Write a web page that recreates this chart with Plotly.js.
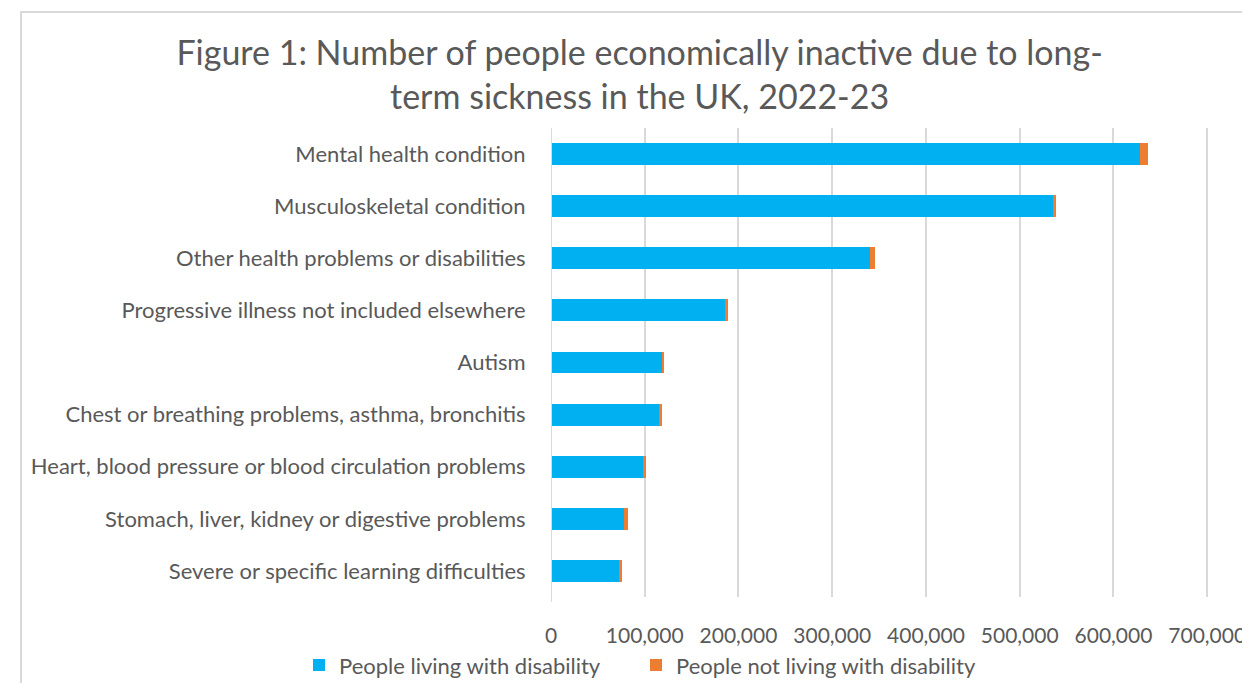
<!DOCTYPE html>
<html>
<head>
<meta charset="utf-8">
<script src="https://cdn.plot.ly/plotly-3.0.1.min.js"></script>
<style>
  html, body { margin: 0; padding: 0; background: #fff; }
  #frame { position: absolute; left: 20px; top: 11px; width: 1230px; height: 680px;
           border-left: 2px solid #d9d9d9; border-top: 2px solid #d9d9d9; }
  #chart { position: absolute; left: 0; top: 0; width: 1242px; height: 683px; }
</style>
</head>
<body>
<div id="frame"></div>
<div id="chart"></div>
<script>
const categories = [
  "Mental health condition",
  "Musculoskeletal condition",
  "Other health problems or disabilities",
  "Progressive illness not included elsewhere",
  "Autism",
  "Chest or breathing problems, asthma, bronchitis",
  "Heart, blood pressure or blood circulation problems",
  "Stomach, liver, kidney or digestive problems",
  "Severe or specific learning difficulties"
];
const livingWithDisability = [628000, 536000, 340000, 186000, 118000, 115000, 98000, 78000, 73000];
const notLivingWithDisability = [9000, 3000, 5500, 3000, 3000, 3000, 3000, 4000, 3000];
const seriesNames = ["People living with disability", "People not living with disability"];
const tickValues = [0, 100000, 200000, 300000, 400000, 500000, 600000, 700000];
const tickLabels = ["0", "100,000", "200,000", "300,000", "400,000", "500,000", "600,000", "700,000"];

const fontFam = "Lato, 'Open Sans', sans-serif";
const textColor = "#595959";

const data = [
  { type: "bar", orientation: "h", name: seriesNames[0], y: categories, x: livingWithDisability,
    marker: { color: "#00B0F0" }, hoverinfo: "x+y", legend: "legend" },
  { type: "bar", orientation: "h", name: seriesNames[1], y: categories, x: notLivingWithDisability,
    marker: { color: "#ED7D31" }, hoverinfo: "x+y", legend: "legend2" }
];

const legendCommon = {
  orientation: "h",
  xref: "container", xanchor: "left",
  yref: "container", y: 0.026, yanchor: "middle",
  font: { family: fontFam, size: 22, color: textColor },
  itemwidth: 30, bgcolor: "rgba(0,0,0,0)"
};

const layout = {
  width: 1242, height: 683,
  paper_bgcolor: "rgba(0,0,0,0)", plot_bgcolor: "rgba(0,0,0,0)",
  margin: { l: 551, r: 32, t: 128, b: 86 },
  barmode: "stack",
  bargap: 0.58,
  font: { family: fontFam, color: textColor, size: 21 },
  title: {
    text: "Figure 1: Number of people economically inactive due to long-<br>term sickness in the UK, 2022-23",
    x: 0.515, xref: "container", xanchor: "center",
    y: 0.905, yref: "container", yanchor: "top",
    font: { family: fontFam, size: 34, color: textColor }
  },
  xaxis: {
    range: [0, 703000], tickvals: tickValues, ticktext: tickLabels,
    showgrid: true, gridcolor: "#d9d9d9", gridwidth: 2,
    zeroline: false, showline: false,
    ticks: "outside", ticklen: 20, tickcolor: "rgba(0,0,0,0)",
    ticklabeloverflow: "allow",
    tickfont: { family: fontFam, size: 21, color: textColor },
    fixedrange: true
  },
  yaxis: {
    categoryorder: "array", categoryarray: categories.slice().reverse(),
    autorange: true,
    showgrid: false, zeroline: false, showline: false,
    ticks: "outside", ticklen: 20, tickcolor: "rgba(0,0,0,0)",
    tickfont: { family: fontFam, size: 22, color: textColor },
    fixedrange: true
  },
  showlegend: true,
  legend: Object.assign({}, legendCommon, { x: 299 / 1242 }),
  legend2: Object.assign({}, legendCommon, { x: 636 / 1242 }),
  shapes: [
    { type: "line", xref: "x", yref: "paper", x0: 0, x1: 0, y0: -0.01, y1: 1,
      line: { color: "#d9d9d9", width: 2 } }
  ]
};

Plotly.newPlot("chart", data, layout, { displayModeBar: false, staticPlot: false });
</script>
</body>
</html>
